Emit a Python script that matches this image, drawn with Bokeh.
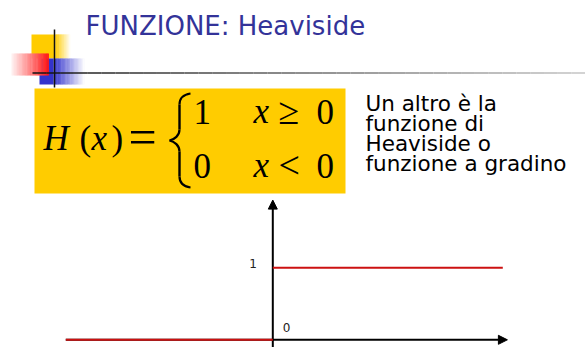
from bokeh.plotting import figure
from bokeh.models import Range1d, Arrow, NormalHead
from bokeh.core.properties import value
from bokeh.embed import file_html
from bokeh.resources import INLINE

# ---- content -------------------------------------------------------------
title_text = "FUNZIONE: Heaviside"
body_lines = ["Un altro è la", "funzione di", "Heaviside o", "funzione a gradino"]

# Heaviside step H(x): 0 for x < 0, 1 for x >= 0
neg_x = [-9, 0]
neg_y = [0, 0]
pos_x = [0, 10]
pos_y = [1, 1]
axis_x_end = 10.2
axis_y_end = 1.94
tick_labels_y = ["1"]
tick_values_y = [1]
origin_label = ["0"]

# ---- colours -------------------------------------------------------------
TITLE_BLUE = "#333399"
GOLD = "#FFCC00"
STEP_RED = "#cc1111"

W, H = 585, 347

p = figure(width=W, height=H, x_range=Range1d(0, W), y_range=Range1d(H, 0),
           output_backend="svg", toolbar_location=None,
           x_axis_location=None, y_axis_location=None,
           min_border=0, outline_line_color=None)
p.grid.visible = False
p.background_fill_color = "white"
p.border_fill_color = "white"

# graph coordinates: origin placed at (272.3, 339.3) px, 23 px per x unit, 72 px per y unit
X0, Y0, UX, UY = 272.3, 339.3, 23.0, 72.0
p.extra_x_ranges = {"fx": Range1d(-X0 / UX, (W - X0) / UX)}
p.extra_y_ranges = {"fy": Range1d((Y0 - H) / UY, Y0 / UY)}

SANS = value("DejaVu Sans")
SERIF = value("Liberation Serif")


def lift(size, k):
    """Vertical correction so the glyph baseline lands on the wanted pixel row."""
    return -k * size


def label(x, y, txt, size, font=SANS, k=0.37, **kw):
    p.text(x=x, y=y, text=txt, text_font=font, text_font_size=f"{size}px",
           y_offset=lift(size, k), text_baseline="alphabetic", **kw)


def lerp(c0, c1, t):
    return "#%02x%02x%02x" % tuple(int(round(a + (b - a) * t)) for a, b in zip(c0, c1))


def gradient_quads(x0, x1, y0, y1, c0, c1, n=24, solid_until=None):
    """Horizontal colour ramp made of thin vertical strips."""
    lefts, rights, cols = [], [], []
    start = x0 if solid_until is None else solid_until
    if solid_until is not None:
        lefts.append(x0); rights.append(solid_until); cols.append(lerp(c0, c0, 0))
    step = (x1 - start) / n
    for i in range(n):
        lefts.append(start + i * step)
        rights.append(start + (i + 1) * step + 0.4)
        cols.append(lerp(c0, c1, (i + 0.5) / n))
    p.quad(left=lefts, right=rights, top=[y0] * len(lefts), bottom=[y1] * len(lefts),
           fill_color=cols, line_color=None)


# ---- slide logo ----------------------------------------------------------
gradient_quads(31, 70, 34, 58, (255, 204, 0), (255, 255, 255), solid_until=55)
gradient_quads(39, 84, 58, 84, (51, 51, 204), (255, 255, 255), solid_until=53)
gradient_quads(11, 48, 53, 75, (255, 244, 244), (255, 20, 20), n=30)

# rule under the title, fading to grey
n_seg = 40
xs = [32 + (W - 32) * i / n_seg for i in range(n_seg + 1)]
p.segment(x0=xs[:-1], y0=[72.5] * n_seg, x1=xs[1:], y1=[72.5] * n_seg,
          line_color=[lerp((20, 20, 20), (200, 200, 200), i / n_seg) for i in range(n_seg)],
          line_width=1.5)
p.segment(x0=[54], y0=[29], x1=[54], y1=[87], line_color="#111111", line_width=1.5)

# ---- title ---------------------------------------------------------------
label([85], [35], [title_text], 26, text_color=TITLE_BLUE)

# ---- formula box ---------------------------------------------------------
p.quad(left=[34], right=[345], top=[88], bottom=[193], fill_color=GOLD, line_color=None)

K_SERIF = 0.34
label([43], [150], ["H"], 35, font=SERIF, k=K_SERIF, text_font_style="italic")
label([79, 111], [150, 150], ["(", ")"], 35, font=SERIF, k=K_SERIF)
label([91], [150], ["x"], 35, font=SERIF, k=K_SERIF, text_font_style="italic")
label([128], [153], ["="], 50, font=SERIF, k=K_SERIF)

# curly brace
p.bezier(x0=[190, 179, 169, 179], y0=[93, 129, 140, 176],
         x1=[179, 169, 179, 190], y1=[104, 140, 151, 187],
         cx0=[183, 179, 174, 179], cy0=[94, 135, 141, 182],
         cx1=[179, 174, 179, 183], cy1=[98, 139, 145, 186],
         line_color="black", line_width=2.2)
p.segment(x0=[179, 179], y0=[104, 151], x1=[179, 179], y1=[129, 176],
          line_color="black", line_width=2.4)

for base, val, rel in [(123, "1", "≥"), (177, "0", "<")]:
    label([193, 316], [base, base], [val, "0"], 35, font=SERIF, k=K_SERIF)
    label([253], [base], ["x"], 35, font=SERIF, k=K_SERIF, text_font_style="italic")
    label([278], [base], [rel], 38, font=SERIF, k=K_SERIF)

# ---- side text -----------------------------------------------------------
label([365] * 4, [111, 131, 151, 171], body_lines, 21.5, text_color="black")

# ---- step function graph -------------------------------------------------
head = dict(size=9, fill_color="black", line_color="black")
p.add_layout(Arrow(x_start=neg_x[0], y_start=0, x_end=axis_x_end, y_end=0,
                   end=NormalHead(**head), line_width=2, line_color="black",
                   x_range_name="fx", y_range_name="fy", level="underlay"))
p.add_layout(Arrow(x_start=0, y_start=(Y0 - H) / UY, x_end=0, y_end=axis_y_end,
                   end=NormalHead(**head), line_width=2, line_color="black",
                   x_range_name="fx", y_range_name="fy", level="underlay"))

p.line(neg_x, neg_y, line_color=STEP_RED, line_width=2,
       x_range_name="fx", y_range_name="fy")
p.line(pos_x, pos_y, line_color=STEP_RED, line_width=2,
       x_range_name="fx", y_range_name="fy")

p.text(x=[0], y=tick_values_y, text=tick_labels_y, x_offset=-16, y_offset=lift(12, 0.37),
       text_font=SANS, text_font_size="12px", text_color="#222222",
       text_align="right", text_baseline="alphabetic",
       x_range_name="fx", y_range_name="fy")
p.text(x=[0], y=[0], text=origin_label, x_offset=10, y_offset=-8 + lift(12, 0.37),
       text_font=SANS, text_font_size="12px", text_color="#222222",
       text_align="left", text_baseline="alphabetic",
       x_range_name="fx", y_range_name="fy")

open("out.html", "w").write(file_html(p, INLINE))
